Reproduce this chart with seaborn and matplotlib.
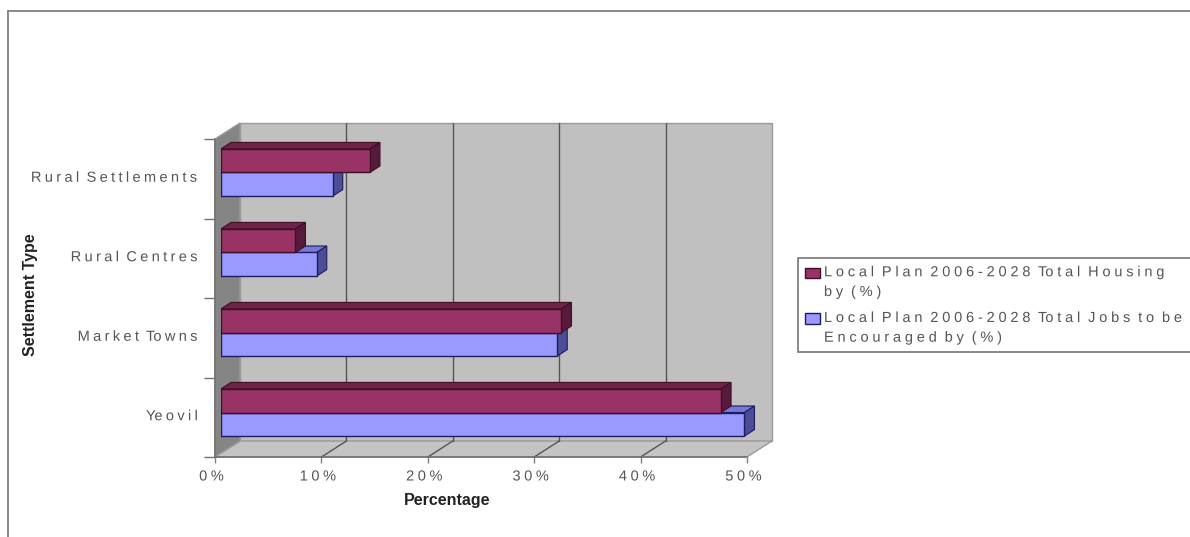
import matplotlib
matplotlib.use("Agg")
import matplotlib.pyplot as plt
import numpy as np
import pandas as pd
import seaborn as sns
from matplotlib.legend_handler import HandlerPatch
from matplotlib.lines import Line2D
from matplotlib.patches import Patch, Polygon, Rectangle
from matplotlib.patheffects import AbstractPathEffect
from matplotlib.path import Path
from matplotlib.transforms import IdentityTransform

settlements = ["Rural Settlements", "Rural Centres", "Market Towns", "Yeovil"]
housing_pct = [14.0, 7.0, 32.0, 47.0]
jobs_pct = [10.5, 9.0, 31.6, 49.2]
housing_label = "Local Plan 2006-2028 Total Housing\nby (%)"
jobs_label = "Local Plan 2006-2028 Total Jobs to be\nEncouraged by (%)"
x_ticks = [0, 10, 20, 30, 40, 50]

W, H = 1190, 537
HOUSING = dict(face="#993366", top="#6e2347", side="#571a3a", edge="#3f0f2a")
JOBS = dict(face="#9999ff", top="#7878d8", side="#4c4c99", edge="#1c1c60")
TEXT = "#555555"

sns.set_theme(style="white")
plt.rcParams["font.family"] = ["Liberation Sans", "DejaVu Sans"]


class Tracked(AbstractPathEffect):
    """Draw a text line with extra space between its glyphs."""

    def __init__(self, tracking, anchor="left", shift=(0, 0)):
        super().__init__()
        self.tracking = tracking
        self.anchor = anchor
        self.shift = shift

    def draw_path(self, renderer, gc, tpath, affine, rgbFace=None):
        path = tpath.transformed(affine)
        verts = np.array(path.vertices, dtype=float)
        codes = path.codes
        starts = list(np.flatnonzero(codes == Path.MOVETO)) + [len(codes)]
        glyph = -1
        glyph_right = -np.inf
        spans = []
        for a, b in zip(starts[:-1], starts[1:]):
            solid = codes[a:b] != Path.CLOSEPOLY
            left, right = verts[a:b][solid, 0].min(), verts[a:b][solid, 0].max()
            if left >= glyph_right - 0.2:
                glyph += 1
            glyph_right = max(glyph_right, right)
            spans.append((a, b, glyph))
        lead = {"left": 0, "center": 0.5, "right": 1}[self.anchor] * glyph * self.tracking
        for a, b, index in spans:
            verts[a:b, 0] += index * self.tracking - lead
        verts += self.shift
        renderer.draw_path(gc, Path(verts, codes), IdentityTransform(), rgbFace)


def px_axes(fig, left, right, top, bottom):
    """Add axes given by pixel edges measured from the top-left corner."""
    return fig.add_axes([left / W, 1 - bottom / H, (right - left) / W, (bottom - top) / H])


fig = plt.figure(figsize=(W / 100, H / 100), dpi=100, facecolor="white")

# Outer chart border: only the top and left edges fall inside the canvas
for xs, ys in (((8, W), (11, 11)), ((8, 8), (11, H))):
    fig.add_artist(Line2D([x / W for x in xs], [1 - y / H for y in ys], color="#808080", lw=1.3))

# Front plane of the 3D box carries the ticks and labels
frame = px_axes(fig, 215, 747, 139, 457)
frame.set_xlim(0, 50)
frame.set_ylim(4, 0)
frame.patch.set_alpha(0)
for spine in frame.spines.values():
    spine.set_visible(False)

depth_x = 25 * 50 / 532
depth_y = 16 * 4 / 318

walls = dict(clip_on=False, lw=1, edgecolor="#9a9a9a", zorder=1)
frame.add_patch(Polygon([(depth_x, -depth_y), (50 + depth_x, -depth_y),
                         (50 + depth_x, 4 - depth_y), (depth_x, 4 - depth_y)],
                        facecolor="#c0c0c0", **walls))
frame.add_patch(Polygon([(0, 4), (50, 4), (50 + depth_x, 4 - depth_y), (depth_x, 4 - depth_y)],
                        facecolor="#c4c4c4", **walls))
frame.add_patch(Polygon([(0, 0), (depth_x, -depth_y), (depth_x, 4 - depth_y), (0, 4)],
                        facecolor="#858585", **walls))

# Gridlines run up the back wall and forward across the floor
for t in x_ticks[1:-1]:
    frame.plot([t + depth_x, t + depth_x], [-depth_y, 4 - depth_y], color="#555555", lw=1,
               clip_on=False, zorder=1.5)
    frame.plot([t, t + depth_x], [4, 4 - depth_y], color="#555555", lw=1, clip_on=False, zorder=1.5)
frame.plot([0, 50], [4, 4], color="#707070", lw=1.2, clip_on=False, zorder=1.6)
frame.plot([0, 0], [0, 4], color="#707070", lw=1.2, clip_on=False, zorder=1.6)

frame.set_xticks(x_ticks)
frame.set_xticklabels([f"{t}%" for t in x_ticks], fontsize=10.5, color=TEXT)
frame.tick_params(axis="x", bottom=True, length=4, width=1, color="#808080", pad=5)
for label in frame.get_xticklabels():
    label.set_path_effects([Tracked(3.6, "center", (-3.5, 0))])

frame.set_yticks(range(5))
frame.set_yticklabels([])
frame.set_yticks([0.5, 1.5, 2.5, 3.5], labels=settlements, minor=True)
frame.tick_params(axis="y", which="major", left=True, length=8, width=1, color="#707070")
frame.tick_params(axis="y", which="minor", left=False, length=0, pad=15,
                  labelsize=10.5, labelcolor=TEXT)
for label in frame.get_yticklabels(minor=True):
    label.set_verticalalignment("center")
    label.set_path_effects([Tracked(3.35, "right", (4, 1))])

fig.text(447 / W, 1 - 501 / H, "Percentage", ha="center", va="center", fontsize=11.5,
         fontweight="bold", color="#222222")
fig.text(30 / W, 1 - 295 / H, "Settlement Type", ha="center", va="center", rotation=90,
         fontsize=11.5, fontweight="bold", color="#222222")

# Bars sit a little behind the front plane, in their own transparent axes
bars = pd.DataFrame({
    "settlement": settlements * 2,
    "pct": housing_pct + jobs_pct,
    "series": [housing_label] * 4 + [jobs_label] * 4,
})
ax = px_axes(fig, 221, 753, 132.5, 452.5)
sns.barplot(data=bars, y="settlement", x="pct", hue="series", order=settlements,
            hue_order=[housing_label, jobs_label],
            palette=[HOUSING["face"], JOBS["face"]], width=0.59, gap=0, dodge=True,
            legend=False, ax=ax, orient="h", saturation=1)
ax.set_xlim(0, 50)
ax.set_ylim(3.5, -0.5)
ax.axis("off")
ax.patch.set_alpha(0)

bar_dx = 10 * 50 / 532
bar_dy = 6.5 * 4 / 320
styles = [HOUSING] * 4 + [JOBS] * 4
for patch, style in zip(list(ax.patches), styles):
    z = 3 if style is HOUSING else 2
    x1 = patch.get_width()
    y0, y1 = patch.get_y(), patch.get_y() + patch.get_height()
    patch.set(edgecolor=style["edge"], linewidth=1, zorder=z + 0.1)
    ax.add_patch(Polygon([(0, y0), (x1, y0), (x1 + bar_dx, y0 - bar_dy), (bar_dx, y0 - bar_dy)],
                         facecolor=style["top"], edgecolor=style["edge"], lw=0.8,
                         clip_on=False, zorder=z))
    ax.add_patch(Polygon([(x1, y0), (x1 + bar_dx, y0 - bar_dy), (x1 + bar_dx, y1 - bar_dy), (x1, y1)],
                         facecolor=style["side"], edgecolor=style["edge"], lw=0.8,
                         clip_on=False, zorder=z))


def first_line_swatch(legend, orig_handle, xdescent, ydescent, width, height, fontsize):
    """Raise the legend swatch so it lines up with the first line of its label."""
    return Rectangle((-xdescent, -ydescent + 7), width, height)


handles = [Patch(facecolor=HOUSING["face"], edgecolor=HOUSING["edge"], label=housing_label),
           Patch(facecolor=JOBS["face"], edgecolor=JOBS["edge"], label=jobs_label)]
legend = fig.legend(handles=handles, loc="upper left",
                    bbox_to_anchor=(798 / W, 1 - 351 / H, 420 / W, 93 / H),
                    mode="expand", frameon=True, fancybox=False, framealpha=1,
                    edgecolor="#808080", fontsize=10.5, labelcolor=TEXT,
                    handlelength=1.03, handleheight=0.68, handletextpad=0.25,
                    borderpad=0.5, labelspacing=0.82, borderaxespad=0,
                    handler_map={Patch: HandlerPatch(patch_func=first_line_swatch)})
legend.get_frame().set_linewidth(1.3)
for text in legend.get_texts():
    text.set_linespacing(1.52)
    text.set_path_effects([Tracked(3.8)])

fig.savefig("out.png", dpi=100)
